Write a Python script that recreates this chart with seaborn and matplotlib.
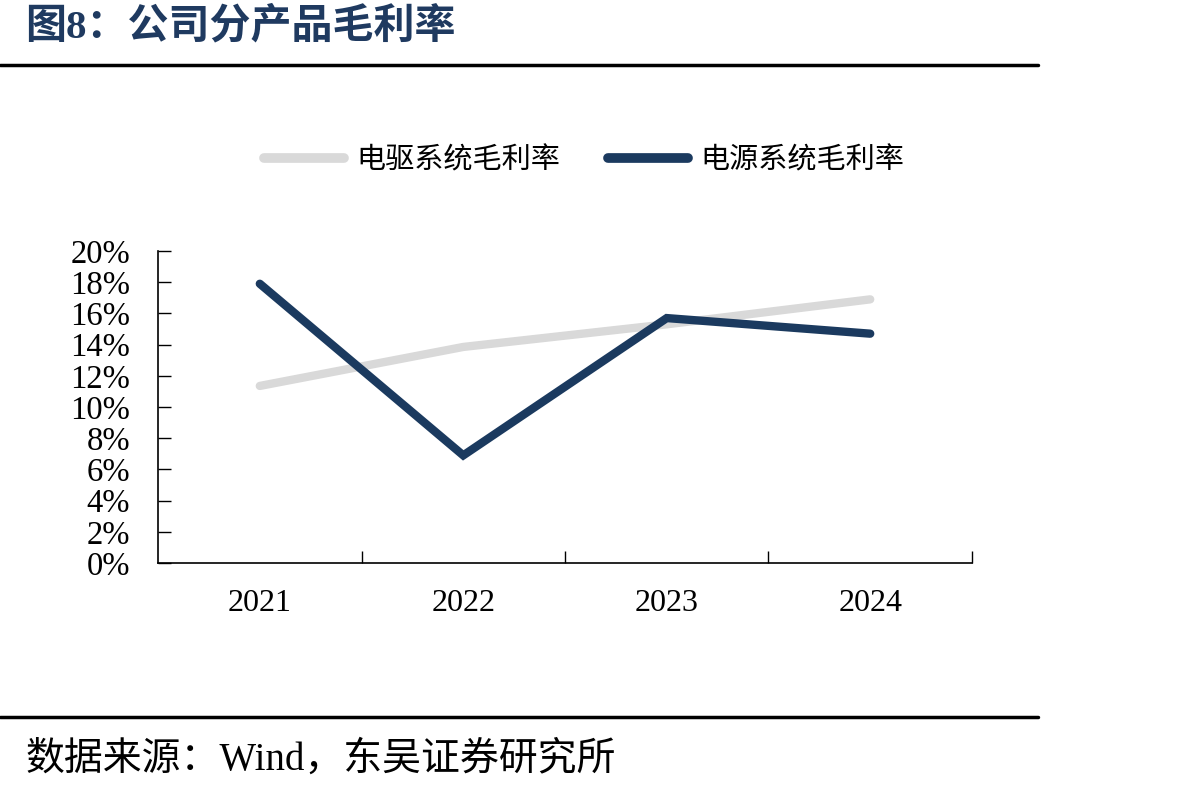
import pandas as pd
import seaborn as sns
import matplotlib.pyplot as plt
from matplotlib.lines import Line2D

years = ['2021', '2022', '2023', '2024']
drive_margin = [11.35, 13.85, 15.3, 16.9]   # 电驱系统毛利率 (%)
power_margin = [17.9, 6.9, 15.7, 14.7]      # 电源系统毛利率 (%)
series_names = ['电驱系统毛利率', '电源系统毛利率']
y_ticks = list(range(0, 21, 2))

sns.set_style('ticks', {'text.color': 'black', 'xtick.color': 'black',
                        'ytick.color': 'black', 'axes.edgecolor': 'black'})
plt.rcParams['font.family'] = ['Liberation Serif', 'Noto Sans CJK SC', 'DejaVu Sans']
plt.rcParams['axes.unicode_minus'] = False

df = pd.DataFrame({
    'x': list(range(len(years))) * 2,
    'value': drive_margin + power_margin,
    'series': [series_names[0]] * len(years) + [series_names[1]] * len(years),
})

palette = {series_names[0]: '#D9D9D9', series_names[1]: '#1B3A5F'}

fig = plt.figure(figsize=(11.92, 7.9), dpi=100)
ax = fig.add_axes([0.1326, 0.2873, 0.6828, 0.395])

sns.lineplot(data=df, x='x', y='value', hue='series', palette=palette,
             linewidth=6, ax=ax, legend=False, sort=False,
             solid_capstyle='round', solid_joinstyle='miter')

ax.set_xlim(-0.5, 3.5)
ax.set_ylim(0, 20)
ax.set_yticks(y_ticks)
ax.set_yticklabels([f'{v}%' for v in y_ticks], fontsize=23.5)
ax.set_xticks(range(len(years)))
ax.set_xticklabels(years, fontsize=23)
ax.tick_params(axis='x', which='major', length=0, pad=19)
ax.set_xticks([0.5, 1.5, 2.5, 3.5], minor=True)
ax.tick_params(axis='x', which='minor', direction='in', length=9, width=1)
ax.tick_params(axis='y', direction='in', length=9, width=1, pad=20)
ax.set_xlabel('')
ax.set_ylabel('')
for s in ['top', 'right']:
    ax.spines[s].set_visible(False)
for s in ['left', 'bottom']:
    ax.spines[s].set_linewidth(1.2)
    ax.spines[s].set_color('black')

handles = [Line2D([], [], color=palette[n], linewidth=7, solid_capstyle='round')
           for n in series_names]
fig.legend(handles, series_names, loc='center', bbox_to_anchor=(0.49, 0.797),
           ncol=2, frameon=False, handlelength=2.75,
           handletextpad=0.4, columnspacing=1.65,
           prop={'family': ['Noto Sans CJK SC'], 'size': 21})

fig.text(0.021, 0.966, '图8：公司分产品毛利率', fontsize=29.5, fontweight='bold',
         color='#1F3A60', va='center', ha='left',
         family=['Liberation Serif', 'Noto Sans CJK SC'])
fig.add_artist(Line2D([0, 0.871], [0.918, 0.918], color='black', linewidth=2.5,
                      transform=fig.transFigure))
fig.add_artist(Line2D([0, 0.871], [0.092, 0.092], color='black', linewidth=2.5,
                      transform=fig.transFigure))
fig.text(0.021, 0.038, '数据来源：Wind，东吴证券研究所', fontsize=28,
         va='center', ha='left',
         family=['Liberation Serif', 'Noto Sans CJK SC'])

fig.savefig('out.png', dpi=100)
